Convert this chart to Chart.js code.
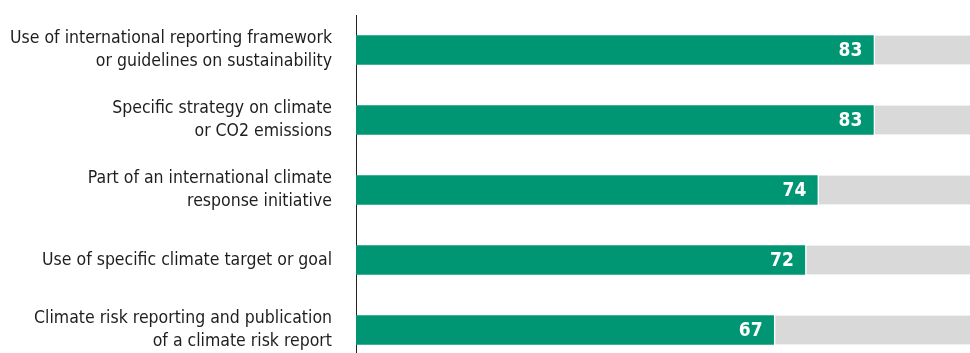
<!DOCTYPE html>
<html>
<head>
<meta charset="utf-8">
<script src="https://cdn.jsdelivr.net/npm/chart.js@4.4.1/dist/chart.umd.min.js"></script>
<style>
  html, body { margin: 0; padding: 0; background: #fff; }
  #wrap { width: 970px; height: 353px; overflow: hidden; }
  #box { width: 970px; height: 365px; position: relative; }
</style>
</head>
<body>
<div id="wrap"><div id="box"><canvas id="myChart"></canvas></div></div>
<script>
const categories = [
  ['Use of international reporting framework', 'or guidelines on sustainability'],
  ['Specific strategy on climate', 'or CO2 emissions'],
  ['Part of an international climate', 'response initiative'],
  'Use of specific climate target or goal',
  ['Climate risk reporting and publication', 'of a climate risk report']
];
const shares = [83, 83, 74, 72, 67];
const total = 100;
const remainder = shares.map(v => total - v);

const labelFont = '"DejaVu Sans Condensed", "Liberation Sans Narrow", sans-serif';

// writes the value inside the end of each green bar
const valueLabels = {
  id: 'valueLabels',
  afterDatasetsDraw(chart) {
    const ctx = chart.ctx;
    const meta = chart.getDatasetMeta(0);
    ctx.save();
    ctx.font = 'bold 19px ' + labelFont;
    ctx.fillStyle = '#ffffff';
    ctx.textAlign = 'right';
    ctx.textBaseline = 'middle';
    meta.data.forEach((bar, i) => {
      ctx.fillText(String(shares[i]), bar.x - 11, bar.y + 1);
    });
    ctx.restore();
  }
};

new Chart(document.getElementById('myChart'), {
  type: 'bar',
  data: {
    labels: categories,
    datasets: [
      {
        label: 'Share',
        data: shares,
        backgroundColor: '#009673',
        borderWidth: 0,
        barThickness: 29
      },
      {
        label: 'Rest',
        data: remainder,
        backgroundColor: '#d9d9d9',
        borderColor: '#ffffff',
        borderWidth: { left: 2, top: 0, right: 0, bottom: 0 },
        borderSkipped: false,
        barThickness: 29
      }
    ]
  },
  options: {
    indexAxis: 'y',
    responsive: true,
    maintainAspectRatio: false,
    animation: false,
    layout: { padding: { top: 15, right: 0, bottom: 0, left: 0 } },
    plugins: {
      legend: { display: false },
      tooltip: { enabled: false }
    },
    scales: {
      x: {
        stacked: true,
        display: false,
        min: 0,
        max: 98.5
      },
      y: {
        stacked: true,
        grid: { display: false, drawTicks: false },
        border: { display: true, color: '#222222', width: 1 },
        ticks: {
          color: '#1e1e1e',
          padding: 24,
          font: { family: labelFont, size: 17.5, lineHeight: 1.3 },
          autoSkip: false
        },
        afterFit(scale) {
          scale.width = 356;
          scale.paddingTop = 0;
          scale.paddingBottom = 0;
        }
      }
    }
  },
  plugins: [valueLabels]
});
</script>
</body>
</html>
